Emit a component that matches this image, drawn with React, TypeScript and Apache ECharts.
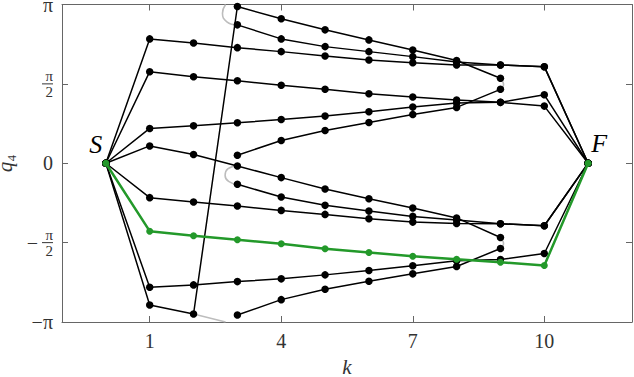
import { useEffect, useRef } from "react";
import * as echarts from "echarts";

const PI = Math.PI;

// axis ticks and labels
const K_TICKS = [1, 4, 7, 10];
const Q_TICKS = [-PI, -PI / 2, 0, PI / 2, PI];
const Q_TICK_LABELS = [
  "{a|−π}",
  "{f|π}\n{m|−}{bar| }\n{f|2}",
  "{a|0}",
  "{f|π}\n{bar| }\n{f|2}",
  "{p|π}",
];

// black paths, points as [k, q4]
const pathWrap = [[0, 0], [1, -2.804], [2, -2.983], [3, 3.102], [4, 2.858], [5, 2.64], [6, 2.441], [7, 2.242], [8, 2.034], [9, 1.681]];
const pathTopB = [[3, 2.739], [4, 2.461], [5, 2.308], [6, 2.209], [7, 2.11], [8, 2.004], [9, 1.945], [10, 1.911], [11, 0]];
const pathTopC = [[0, 0], [1, 2.461], [2, 2.381], [3, 2.288], [4, 2.209], [5, 2.123], [6, 2.044], [7, 1.99], [8, 1.945], [9, 1.945], [10, 1.911], [11, 0]];
const pathUpper2 = [[0, 0], [1, 1.812], [2, 1.713], [3, 1.633], [4, 1.542], [5, 1.463], [6, 1.375], [7, 1.31], [8, 1.25], [9, 1.205], [10, 1.131], [11, 0]];
const pathUpper3 = [[0, 0], [1, 0.689], [2, 0.74], [3, 0.8], [4, 0.867], [5, 0.933], [6, 1.018], [7, 1.111], [8, 1.191], [9, 1.205], [10, 1.355], [11, 0]];
const pathRise = [[3, 0.159], [4, 0.45], [5, 0.649], [6, 0.808], [7, 0.966], [8, 1.105], [9, 1.463]];
const pathFall = [[0, 0], [1, 0.343], [2, 0.173], [3, -0.054], [4, -0.284], [5, -0.51], [6, -0.701], [7, -0.887], [8, -1.082], [9, -1.469]];
const pathMidA = [[3, -0.417], [4, -0.669], [5, -0.833], [6, -0.947], [7, -1.052], [8, -1.121], [9, -1.197], [10, -1.236], [11, 0]];
const pathMidB = [[0, 0], [1, -0.681], [2, -0.768], [3, -0.847], [4, -0.933], [5, -1.012], [6, -1.097], [7, -1.165], [8, -1.191], [9, -1.197], [10, -1.236], [11, 0]];
const pathLow3 = [[0, 0], [1, -2.455], [2, -2.407], [3, -2.342], [4, -2.288], [5, -2.209], [6, -2.123], [7, -2.03], [8, -1.93], [9, -1.905], [10, -1.786], [11, 0]];
const pathBottom = [[3, -3.003], [4, -2.699], [5, -2.495], [6, -2.336], [7, -2.189], [8, -2.044], [9, -1.687]];

// highlighted path
const pathGreen = [[0, 0], [1, -1.344], [2, -1.435], [3, -1.514], [4, -1.594], [5, -1.693], [6, -1.766], [7, -1.84], [8, -1.899], [9, -1.959], [10, -2.024], [11, 0]];

// grey continuous turnarounds
const greyA = [[2, -2.983], [2.73, -PI]];
const greyB = [[2.73, PI], [2.66, 2.97], [2.76, 2.8], [3, 2.739]];
const greyC = [[3, -0.054], [2.78, -0.11], [2.72, -0.24], [2.8, -0.36], [3, -0.417]];
const greyD = [[9, 1.681], [9.06, 1.6], [9.07, 1.55], [9, 1.463]];
const greyE = [[9, -1.469], [9.06, -1.55], [9.07, -1.6], [9, -1.687]];

const blackPaths = [pathWrap, pathTopB, pathTopC, pathUpper2, pathUpper3, pathRise, pathFall, pathMidA, pathMidB, pathLow3, pathBottom];
const greyPaths = [greyA, greyB, greyC, greyD, greyE];

const SERIF = "'Liberation Serif', 'DejaVu Serif', serif";
const GREEN = "#23992a";
const TXT = "#333";

export default function App() {
  const ref = useRef<HTMLDivElement>(null);
  useEffect(() => {
    if (!ref.current) return;
    const chart = echarts.init(ref.current, undefined, { renderer: "svg" });
    const axisLine = { show: true, onZero: false, lineStyle: { color: "#666", width: 1 } };
    const xTick = { show: true, inside: true, length: 6, customValues: K_TICKS, lineStyle: { color: "#666" } };
    const yTick = { show: true, inside: true, length: 6, lineStyle: { color: "#666" } };
    const series: any[] = [];
    greyPaths.forEach((p) => {
      series.push({
        type: "line",
        data: p,
        smooth: 0.5,
        showSymbol: false,
        symbol: "none",
        lineStyle: { color: "#bdbdbd", width: 1.6 },
        z: 1,
      });
    });
    blackPaths.forEach((p) => {
      series.push({
        type: "line",
        data: p,
        symbol: "circle",
        symbolSize: 7.5,
        itemStyle: { color: "#000" },
        lineStyle: { color: "#000", width: 1.5 },
        z: 2,
      });
    });
    series.push({
      type: "line",
      data: pathGreen.map((p, i) => {
        if (i === 0)
          return { value: p, label: { show: true, formatter: "S", offset: [-10, -19] } };
        if (i === pathGreen.length - 1)
          return { value: p, label: { show: true, formatter: "F", offset: [11, -20] } };
        return p;
      }),
      symbol: "circle",
      symbolSize: 7,
      itemStyle: { color: GREEN },
      lineStyle: { color: GREEN, width: 2.5 },
      label: {
        show: false,
        position: "inside",
        color: "#000",
        fontFamily: SERIF,
        fontStyle: "italic",
        fontSize: 26,
      },
      z: 3,
    });

    chart.setOption({
      animation: false,
      grid: { left: 62, right: 2, top: 4.5, bottom: 55, containLabel: false, outerBoundsMode: "none" },
      xAxis: [
        {
          type: "value",
          min: -1,
          max: 12,
          axisLine,
          axisTick: xTick,
          splitLine: { show: false },
          axisLabel: {
            customValues: K_TICKS,
            margin: 9,
            color: TXT,
            fontFamily: SERIF,
            fontSize: 20,
          },
          name: "k",
          nameLocation: "middle",
          nameGap: 34,
          nameTextStyle: { fontFamily: SERIF, fontStyle: "italic", fontSize: 21, color: TXT },
        },
        {
          type: "value",
          position: "top",
          min: -1,
          max: 12,
          axisLine,
          axisTick: xTick,
          splitLine: { show: false },
          axisLabel: { show: false },
        },
      ],
      yAxis: [
        {
          type: "value",
          min: -PI,
          max: PI,
          interval: PI / 2,
          axisLine,
          axisTick: yTick,
          splitLine: { show: false },
          axisLabel: {
            margin: 9,
            color: TXT,
            fontFamily: SERIF,
            fontSize: 20,
            formatter: (v: number) => {
              let best = 0;
              Q_TICKS.forEach((t, i) => {
                if (Math.abs(t - v) < Math.abs(Q_TICKS[best] - v)) best = i;
              });
              return Q_TICK_LABELS[best];
            },
            rich: {
              a: { fontSize: 20, fontFamily: SERIF, color: TXT },
              p: { fontSize: 20, lineHeight: 8, padding: [1, 0, 0, 0], fontFamily: SERIF, color: TXT },
              f: { fontSize: 15, lineHeight: 14, width: 11, fontFamily: SERIF, color: TXT },
              m: { fontSize: 20, lineHeight: 2, fontFamily: SERIF, color: TXT, padding: [0, 4, 0, 0] },
              bar: { width: 11, height: 1, lineHeight: 2, fontSize: 1, backgroundColor: TXT },
            },
          },
          name: "{q|q}{s|₄}",
          nameLocation: "middle",
          nameGap: 34,
          nameTextStyle: {
            rich: {
              q: { fontFamily: SERIF, fontStyle: "italic", fontSize: 21, lineHeight: 16, color: TXT },
              s: { fontFamily: SERIF, fontSize: 21, lineHeight: 16, color: TXT },
            },
          },
        },
        {
          type: "value",
          position: "right",
          min: -PI,
          max: PI,
          interval: PI / 2,
          axisLine,
          axisTick: yTick,
          splitLine: { show: false },
          axisLabel: { show: false },
        },
      ],
      series,
    });
    return () => chart.dispose();
  }, []);
  return (
    <div
      ref={ref}
      style={{ position: "fixed", left: 0, top: 0, width: 634, height: 377, background: "#fff" }}
    />
  );
}
